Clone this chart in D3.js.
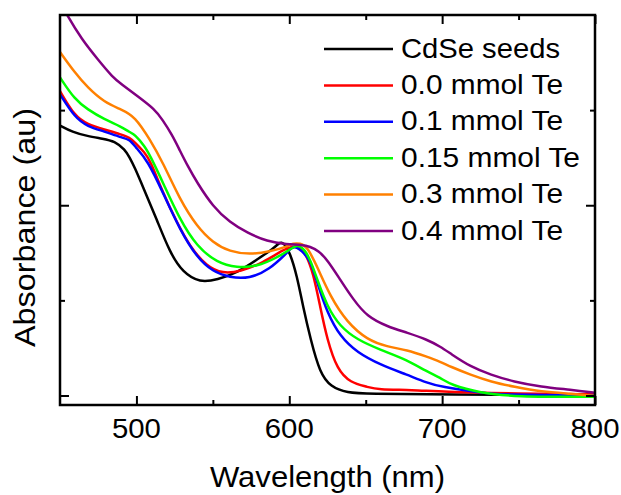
<!DOCTYPE html>
<html>
<head>
<meta charset="utf-8">
<script src="https://cdn.jsdelivr.net/npm/d3@7/dist/d3.min.js"></script>
<style>
  html, body { margin: 0; padding: 0; background: #fff; }
  svg { display: block; font-family: "Liberation Sans", Arial, Helvetica, sans-serif; }
</style>
</head>
<body>
<svg id="chart" width="621" height="495"></svg>
<script>
// ---------------- DATA ----------------
const seriesNames = ["CdSe seeds", "0.0 mmol Te", "0.1 mmol Te", "0.15 mmol Te", "0.3 mmol Te", "0.4 mmol Te"];
const seriesColors = ["#000000", "#ff0000", "#0000ff", "#00ff00", "#ff8000", "#800080"];

const xTicksMajor = [500, 600, 700, 800];
const xTicksMinor = [550, 650, 750];
const yTicksMajor = [0, 1];
const yTicksMinor = [0.5, 1.5];

const seedsNm  = [450, 458, 468, 478, 485.8, 492.4, 495.6, 498.9, 504.2, 513.3, 521.9, 530.4, 541.5, 553, 566, 579, 590, 593, 595, 597, 600.5, 605, 609, 614, 620, 627, 638, 651, 700, 800];
const seedsAbs = [1.419, 1.385, 1.363, 1.35, 1.337, 1.293, 1.251, 1.198, 1.098, 0.925, 0.751, 0.646, 0.593, 0.609, 0.646, 0.715, 0.775, 0.80, 0.806, 0.795, 0.75, 0.63, 0.467, 0.293, 0.119, 0.046, 0.014, 0.009, 0.005, 0.003];

const te00Nm  = [450, 459.6, 468, 479, 490, 495.6, 499, 505.5, 509, 517.3, 526.5, 535, 546, 556.6, 567.7, 583, 596, 602.5, 607, 611, 615.6, 620.2, 624.8, 631.4, 640, 651, 657.6, 681, 699, 750, 800];
const te00Abs = [1.60, 1.468, 1.425, 1.398, 1.372, 1.356, 1.33, 1.277, 1.235, 1.067, 0.909, 0.783, 0.677, 0.641, 0.651, 0.698, 0.767, 0.785, 0.785, 0.74, 0.646, 0.467, 0.293, 0.135, 0.067, 0.046, 0.03, 0.03, 0.019, 0.01, 0.006];

const te01Nm  = [450, 459.6, 468, 479, 490, 495.6, 499, 507.4, 517.3, 528.4, 539.6, 550, 561, 574, 587, 598.6, 601.8, 605, 608, 613.7, 618.3, 624.8, 633.3, 644.5, 659.6, 677, 690, 699, 725, 738, 800];
const te01Abs = [1.583, 1.462, 1.414, 1.388, 1.356, 1.346, 1.309, 1.235, 1.067, 0.872, 0.725, 0.651, 0.62, 0.614, 0.662, 0.751, 0.78, 0.78, 0.76, 0.715, 0.593, 0.435, 0.309, 0.225, 0.161, 0.109, 0.067, 0.046, 0.014, 0.004, 0.0];

const te015Nm  = [450, 459.6, 468, 479, 490, 495.6, 499, 505.5, 509, 517.3, 528.4, 539.6, 552.7, 565.8, 578.9, 592, 600.5, 603.8, 607, 610, 613.7, 618.3, 624.8, 633.3, 644.5, 659.6, 677, 690, 699, 705.5, 725, 747, 800];
const te015Abs = [1.672, 1.556, 1.504, 1.451, 1.414, 1.383, 1.372, 1.309, 1.26, 1.12, 0.925, 0.783, 0.698, 0.672, 0.677, 0.725, 0.767, 0.786, 0.786, 0.765, 0.715, 0.609, 0.467, 0.362, 0.293, 0.24, 0.188, 0.125, 0.093, 0.056, 0.014, -0.007, -0.007];

const te03Nm  = [450, 459.6, 468, 479, 490, 499, 508.8, 517.3, 528.4, 539.6, 550, 561, 574, 587.4, 598.6, 602.5, 607, 611.7, 618.3, 626.8, 637.9, 651, 664, 677, 690, 699, 705.5, 718.6, 732, 747, 765, 784, 800];
const te03Abs = [1.805, 1.698, 1.619, 1.541, 1.504, 1.467, 1.346, 1.225, 1.03, 0.888, 0.804, 0.756, 0.741, 0.756, 0.783, 0.80, 0.80, 0.783, 0.677, 0.52, 0.383, 0.293, 0.256, 0.24, 0.204, 0.177, 0.151, 0.109, 0.072, 0.046, 0.019, 0.009, -0.002];

const te04Nm  = [450, 454.3, 464.2, 474.7, 484.5, 490.4, 500.9, 512, 517, 523.2, 528.4, 533.7, 539.6, 550, 561.2, 572.3, 585.5, 598.6, 608, 613.7, 619, 624.8, 633.3, 641.9, 651, 664.2, 677.3, 690.4, 699, 705.5, 718.6, 731.8, 746.9, 764.6, 784.3, 800];
const te04Abs = [2.07, 2.003, 1.872, 1.767, 1.672, 1.635, 1.572, 1.504, 1.45, 1.372, 1.288, 1.204, 1.12, 0.993, 0.909, 0.856, 0.809, 0.795, 0.792, 0.783, 0.76, 0.715, 0.609, 0.504, 0.414, 0.362, 0.33, 0.293, 0.256, 0.22, 0.151, 0.109, 0.072, 0.046, 0.03, 0.014];

const seriesNm  = [seedsNm, te00Nm, te01Nm, te015Nm, te03Nm, te04Nm];
const seriesAbs = [seedsAbs, te00Abs, te01Abs, te015Abs, te03Abs, te04Abs];

// ---------------- LAYOUT ----------------
const margin = { left: 60, top: 15, right: 26, bottom: 90 };
const W = 621, H = 495;
const pw = W - margin.left - margin.right;   // 535
const ph = H - margin.top - margin.bottom;   // 390

const svg = d3.select("#chart");
const x = d3.scaleLinear().domain([450, 800]).range([0, pw]);
const y = d3.scaleLinear().domain([-0.05, 2.0]).range([ph, 0]);

const g = svg.append("g").attr("transform", `translate(${margin.left},${margin.top})`);

svg.append("defs").append("clipPath").attr("id", "plotclip")
  .append("rect").attr("x", 0).attr("y", 0).attr("width", pw).attr("height", ph);

// curves
const line = d3.line().x(d => x(d[0])).y(d => y(d[1])).curve(d3.curveBasis);
const curves = g.append("g").attr("clip-path", "url(#plotclip)");
seriesNames.forEach((name, i) => {
  const pts = seriesNm[i].map((v, j) => [v, seriesAbs[i][j]]);
  curves.append("path").datum(pts)
    .attr("d", line)
    .attr("fill", "none")
    .attr("stroke", seriesColors[i])
    .attr("stroke-width", 2.5)
    .attr("stroke-linejoin", "round");
});

// axes (ticks inside, all four sides)
const axisStyle = sel => { sel.select(".domain").remove(); sel.selectAll("line").attr("stroke", "#000").attr("stroke-width", 2); };
const majorLen = 9, minorLen = 5;

g.append("g").attr("transform", `translate(0,${ph})`)
  .call(d3.axisBottom(x).tickValues(xTicksMajor).tickSize(-majorLen).tickFormat(""))
  .call(axisStyle);
g.append("g").attr("transform", `translate(0,${ph})`)
  .call(d3.axisBottom(x).tickValues(xTicksMinor).tickSize(-minorLen).tickFormat(""))
  .call(axisStyle);
g.append("g")
  .call(d3.axisTop(x).tickValues(xTicksMajor).tickSize(-majorLen).tickFormat(""))
  .call(axisStyle);
g.append("g")
  .call(d3.axisTop(x).tickValues(xTicksMinor).tickSize(-minorLen).tickFormat(""))
  .call(axisStyle);
g.append("g")
  .call(d3.axisLeft(y).tickValues(yTicksMajor).tickSize(-majorLen).tickFormat(""))
  .call(axisStyle);
g.append("g")
  .call(d3.axisLeft(y).tickValues(yTicksMinor).tickSize(-minorLen).tickFormat(""))
  .call(axisStyle);
g.append("g").attr("transform", `translate(${pw},0)`)
  .call(d3.axisRight(y).tickValues(yTicksMajor).tickSize(-majorLen).tickFormat(""))
  .call(axisStyle);
g.append("g").attr("transform", `translate(${pw},0)`)
  .call(d3.axisRight(y).tickValues(yTicksMinor).tickSize(-minorLen).tickFormat(""))
  .call(axisStyle);

// tick labels
g.append("g").selectAll("text").data(xTicksMajor).join("text")
  .attr("x", d => x(d)).attr("y", ph + 33)
  .attr("text-anchor", "middle")
  .attr("font-size", 28)
  .attr("textLength", 49).attr("lengthAdjust", "spacingAndGlyphs")
  .attr("fill", "#000")
  .text(d => d);

// frame
g.append("rect").attr("x", 0).attr("y", 0).attr("width", pw).attr("height", ph)
  .attr("fill", "none").attr("stroke", "#000").attr("stroke-width", 2.5);

// axis titles
svg.append("text")
  .attr("x", margin.left + pw / 2).attr("y", 487)
  .attr("text-anchor", "middle").attr("font-size", 30)
  .attr("textLength", 235).attr("lengthAdjust", "spacingAndGlyphs")
  .text("Wavelength (nm)");
svg.append("text")
  .attr("transform", "translate(35,227.5) rotate(-90)")
  .attr("text-anchor", "middle").attr("font-size", 30)
  .attr("textLength", 239).attr("lengthAdjust", "spacingAndGlyphs")
  .text("Absorbance (au)");

// legend
const legendWidths = [159, 162, 162, 179, 162, 162];
const leg = svg.append("g");
seriesNames.forEach((name, i) => {
  const ly = 49 + i * 36.4;
  leg.append("line").attr("x1", 324).attr("x2", 393).attr("y1", ly).attr("y2", ly)
    .attr("stroke", seriesColors[i]).attr("stroke-width", 2.5);
  leg.append("text").attr("x", 401).attr("y", ly + 8.5)
    .attr("font-size", 27.5)
    .attr("textLength", legendWidths[i]).attr("lengthAdjust", "spacingAndGlyphs")
    .text(name);
});
</script>
</body>
</html>
